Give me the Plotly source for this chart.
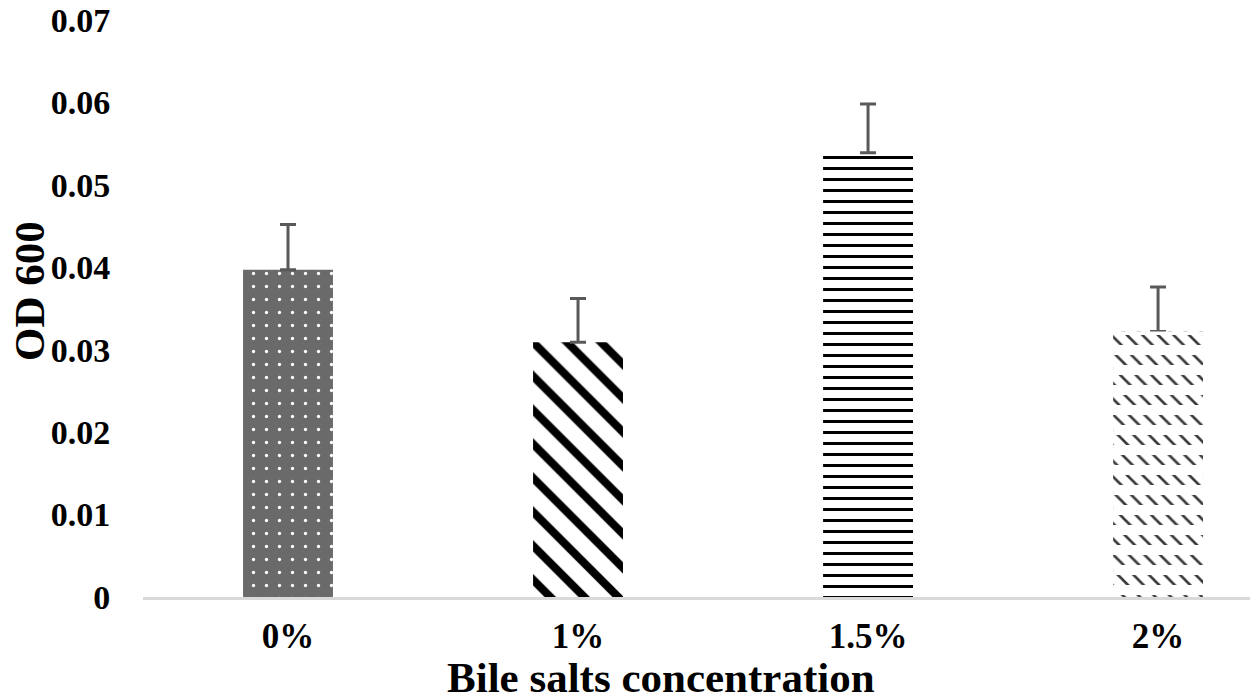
import plotly.graph_objects as go

# Growth (OD 600) at each bile salt concentration
categories = ["0%", "1%", "1.5%", "2%"]
od600 = [0.0397, 0.0309, 0.0539, 0.0322]
od600_err = [0.0055, 0.0053, 0.0059, 0.0054]

y_tick_vals = [0, 0.01, 0.02, 0.03, 0.04, 0.05, 0.06, 0.07]
y_tick_text = ["0", "0.01", "0.02", "0.03", "0.04", "0.05", "0.06", "0.07"]

FONT = "Liberation Serif"
BAR_W = 0.31

# Fill pattern for each bar: (shape, foreground, background, tile size, solidity)
fills = [
    (".", "white", "#6a6a6a", 13, 0.05),
    ("\\", "black", "white", 24, 0.34),
    ("-", "black", "white", 11, 0.27),
    ("\\", "#3a3a3a", "white", 11, 0.24),
]

fig = go.Figure()

for cat, val, err, (shape, fg, bg, size, sol) in zip(categories, od600, od600_err, fills):
    fig.add_trace(go.Bar(
        x=[cat],
        y=[val],
        width=BAR_W,
        marker=dict(
            color=bg,
            line=dict(width=0),
            pattern=dict(
                shape=shape,
                fgcolor=fg,
                fgopacity=1,
                bgcolor=bg,
                size=size,
                solidity=sol,
                fillmode="overlay",
            ),
        ),
        error_y=dict(
            type="data",
            symmetric=False,
            array=[err],
            arrayminus=[0],
            color="#595959",
            thickness=3,
            width=8,
        ),
        showlegend=False,
    ))

# White bands over the 2% bar break its diagonals into rows of short dashes
fig.add_trace(go.Bar(
    x=[categories[3]],
    y=[od600[3]],
    width=BAR_W,
    marker=dict(
        color="rgba(0,0,0,0)",
        line=dict(width=0),
        pattern=dict(
            shape="-",
            fgcolor="white",
            fgopacity=1,
            size=20,
            solidity=0.5,
            fillmode="overlay",
        ),
    ),
    showlegend=False,
    hoverinfo="skip",
))

fig.update_layout(
    width=1253,
    height=700,
    barmode="overlay",
    plot_bgcolor="white",
    paper_bgcolor="white",
    margin=dict(l=143, r=3, t=20, b=103),
    font=dict(family=FONT, color="black"),
    xaxis=dict(
        range=[-0.5, 3.317],
        showline=True,
        linecolor="#d9d9d9",
        linewidth=3,
        showgrid=False,
        zeroline=False,
        ticks="outside",
        ticklen=6,
        tickcolor="rgba(0,0,0,0)",
        tickfont=dict(family=FONT, size=35, color="black", weight="bold"),
    ),
    yaxis=dict(
        range=[0, 0.07],
        tickvals=y_tick_vals,
        ticktext=y_tick_text,
        showline=False,
        showgrid=False,
        zeroline=False,
        ticks="outside",
        ticklen=25,
        tickcolor="rgba(0,0,0,0)",
        tickfont=dict(family=FONT, size=34, color="black", weight="bold"),
    ),
    annotations=[
        dict(
            text="<b>Bile salts concentration</b>",
            xref="paper", yref="paper",
            x=(661 - 143) / 1107, y=(597 - 677) / 577,
            xanchor="center", yanchor="middle",
            showarrow=False,
            font=dict(family=FONT, size=43, color="black"),
        ),
        dict(
            text="<b>OD 600</b>",
            xref="paper", yref="paper",
            x=(29 - 143) / 1107, y=(597 - 291) / 577,
            xanchor="center", yanchor="middle",
            textangle=-90,
            showarrow=False,
            font=dict(family=FONT, size=43, color="black"),
        ),
    ],
)

fig.write_html("out.html")
